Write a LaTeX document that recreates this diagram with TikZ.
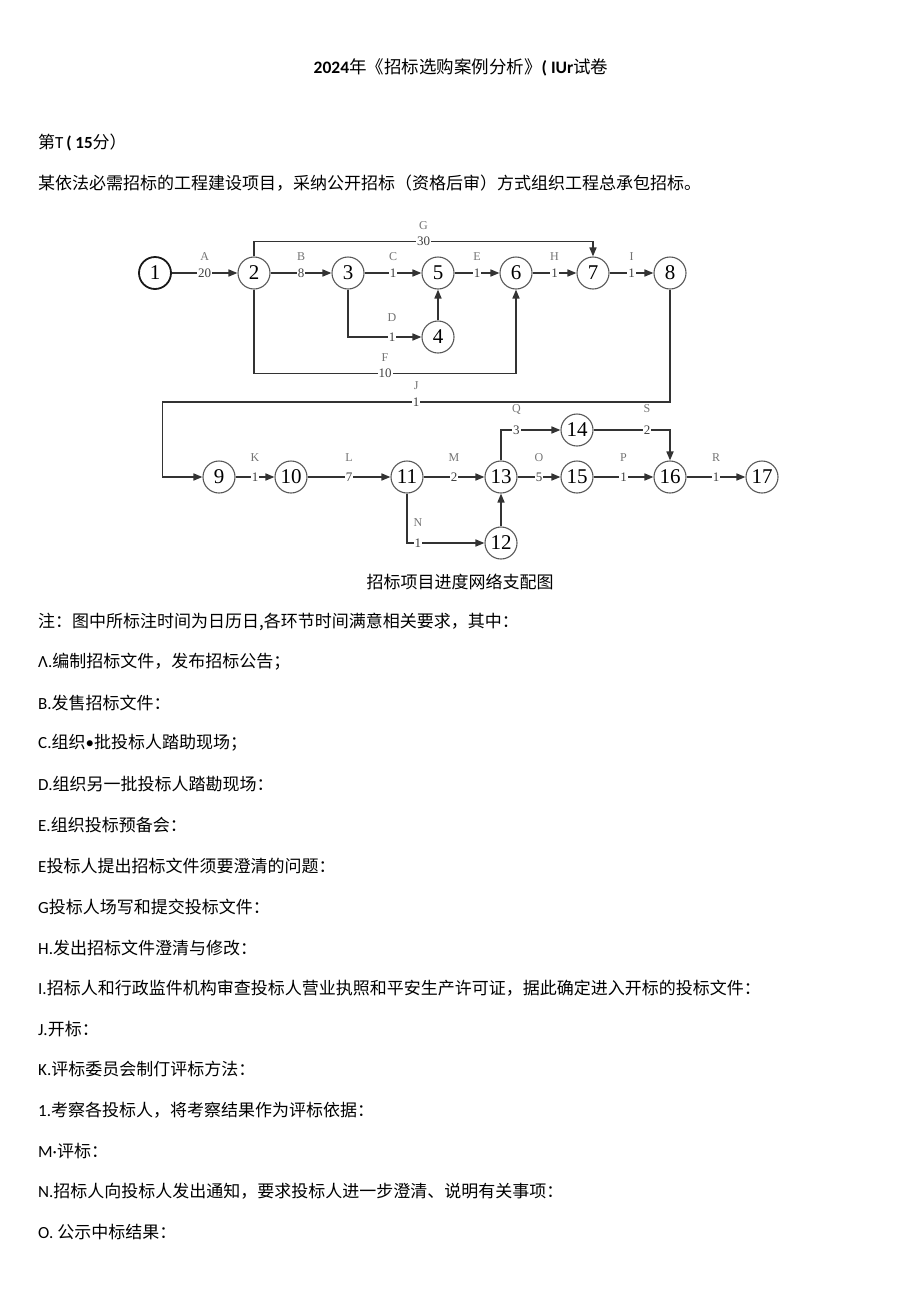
\documentclass[tikz,border=0pt]{standalone}
\usepackage{fontspec}
\setmainfont{Carlito}
\newfontfamily\cjk{Noto Sans CJK SC}
\newfontfamily\numfont{Liberation Serif}
\usetikzlibrary{arrows.meta}
\definecolor{linegray}{HTML}{333333}

\begin{document}
\begin{tikzpicture}[x=1pt, y=-1pt,
  evt/.style={circle, draw=black!65, line width=1.1pt, minimum size=32pt, inner sep=0pt,
    font=\numfont\fontsize{21}{21}\selectfont},
  act/.style={draw=linegray, line width=1.6pt, -{Triangle[length=9pt,width=7pt]}},
  dur/.style={fill=white, inner sep=1pt, font=\numfont\fontsize{13}{13}\selectfont, text=black!75},
  lettag/.style={yshift=16pt, inner sep=0pt, font=\numfont\fontsize{12}{12}\selectfont, text=black!55},
  txt/.style={anchor=west, inner sep=0pt, font=\fontsize{17}{20}\selectfont}]
  \useasboundingbox (0,0) rectangle (920,1301);

  % heading
  \node[font=\fontsize{17.5}{20}\selectfont] (title) at (461,67)
    {\textbf{2024}{\cjk 年《招标选购案例分析》}\textbf{( IUr}{\cjk 试卷}};
  \node[txt] (part) at (38,143) {{\cjk 第}T\,\textbf{( 15}{\cjk 分）}};
  \node[txt] (intro) at (38,183) {\cjk 某依法必需招标的工程建设项目，采纳公开招标（资格后审）方式组织工程总承包招标。};

  % events
  \node[evt, draw=black!90, line width=1.8pt] (n1) at (155,273) {1};
  \node[evt] (n2) at (254,273) {2};
  \node[evt] (n3) at (348,273) {3};
  \node[evt] (n5) at (438,273) {5};
  \node[evt] (n4) at (438,337) {4};
  \node[evt] (n6) at (516,273) {6};
  \node[evt] (n7) at (593,273) {7};
  \node[evt] (n8) at (670,273) {8};
  \node[evt] (n9) at (219,477) {9};
  \node[evt] (n10) at (291,477) {10};
  \node[evt] (n11) at (407,477) {11};
  \node[evt] (n13) at (501,477) {13};
  \node[evt] (n12) at (501,543) {12};
  \node[evt] (n14) at (577,430) {14};
  \node[evt] (n15) at (577,477) {15};
  \node[evt] (n16) at (670,477) {16};
  \node[evt] (n17) at (762,477) {17};

  % activities
  \draw[act] (n1) -- node[dur]{20} node[lettag]{A} (n2);
  \draw[act] (n2) -- node[dur]{8} node[lettag]{B} (n3);
  \draw[act] (n3) -- node[dur]{1} node[lettag]{C} (n5);
  \draw[act] (n5) -- node[dur]{1} node[lettag]{E} (n6);
  \draw[act] (n6) -- node[dur]{1} node[lettag]{H} (n7);
  \draw[act] (n7) -- node[dur]{1} node[lettag]{I} (n8);
  \draw[act] (n2) |- node[dur, pos=0.75]{30} node[lettag, pos=0.75]{G} ([yshift=15pt]n7.north) -- (n7);
  \draw[act] (n3) |- node[dur, pos=0.8]{1} node[lettag, pos=0.8, yshift=3pt]{D} (n4);
  \draw[act] (n4) -- (n5);
  \draw[act] (n2) |- node[dur, pos=0.75]{10} node[lettag, pos=0.75]{F} ([yshift=-84pt]n6.south) -- (n6);
  \draw[act] (n8) |- node[dur, pos=0.75]{1} node[lettag, pos=0.75]{J} ([xshift=-40pt, yshift=75pt]n9.west) |- (n9);
  \draw[act] (n9) -- node[dur]{1} node[lettag, yshift=3pt]{K} (n10);
  \draw[act] (n10) -- node[dur]{7} node[lettag, yshift=3pt]{L} (n11);
  \draw[act] (n11) -- node[dur]{2} node[lettag, yshift=3pt]{M} (n13);
  \draw[act] (n11) |- node[dur, pos=0.57]{1} node[lettag, pos=0.57, yshift=4pt]{N} (n12);
  \draw[act] (n12) -- (n13);
  \draw[act] (n13) |- node[dur, pos=0.63]{3} node[lettag, pos=0.63, yshift=5pt]{Q} (n14);
  \draw[act] (n13) -- node[dur]{5} node[lettag, yshift=3pt]{O} (n15);
  \draw[act] (n14) -| node[dur, pos=0.35]{2} node[lettag, pos=0.35, yshift=5pt]{S} (n16);
  \draw[act] (n15) -- node[dur]{1} node[lettag, yshift=3pt]{P} (n16);
  \draw[act] (n16) -- node[dur]{1} node[lettag, yshift=3pt]{R} (n17);

  \node[font=\cjk\fontsize{17}{20}\selectfont] (caption) at (460,582) {招标项目进度网络支配图};

  % notes
  \node[txt] (note) at (38,622) {\cjk 注：图中所标注时间为日历日,各环节时间满意相关要求，其中：};
  \foreach \y/\t in {
      662/{Λ.{\cjk 编制招标文件，发布招标公告；}},
      703/{B.{\cjk 发售招标文件：}},
      743/{C.{\cjk 组织}\textbullet{\cjk 批投标人踏助现场；}},
      784/{D.{\cjk 组织另一批投标人踏勘现场：}},
      825/{E.{\cjk 组织投标预备会：}},
      866/{E{\cjk 投标人提出招标文件须要澄清的问题：}},
      907/{G{\cjk 投标人场写和提交投标文件：}},
      948/{H.{\cjk 发出招标文件澄清与修改：}},
      988/{I.{\cjk 招标人和行政监件机构审查投标人营业执照和平安生产许可证，据此确定进入开标的投标文件：}},
      1029/{J.{\cjk 开标：}},
      1069/{K.{\cjk 评标委员会制仃评标方法：}},
      1110/{1.{\cjk 考察各投标人，将考察结果作为评标依据：}},
      1151/{M·{\cjk 评标：}},
      1191/{N.{\cjk 招标人向投标人发出通知，要求投标人进一步澄清、说明有关事项：}},
      1232/{O. {\cjk 公示中标结果：}}}
    { \node[txt] (item\y) at (38,\y) {\t}; }
\end{tikzpicture}
\end{document}
